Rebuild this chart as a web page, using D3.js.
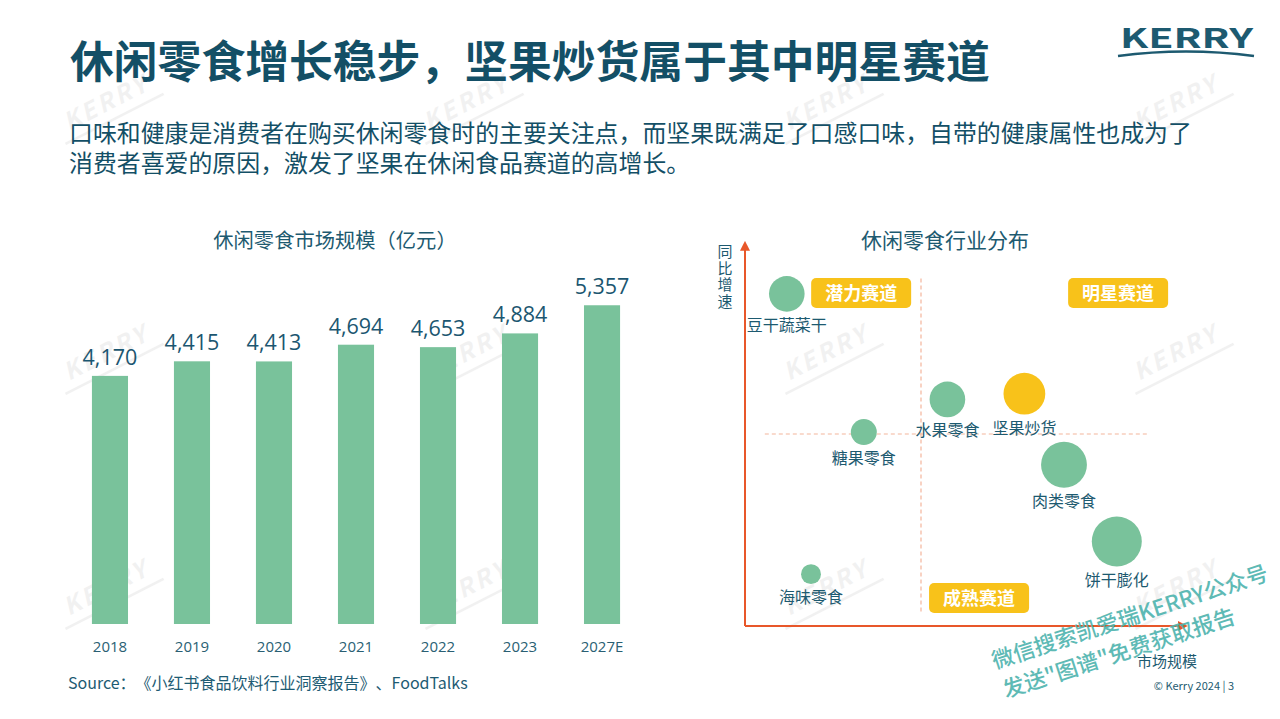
<html>
<head>
<meta charset="utf-8">
<script src="https://cdn.jsdelivr.net/npm/d3@7"></script>
<style>
body{ margin:0; background:#ffffff; overflow:hidden; position:relative; }
svg{ text-spacing-trim: space-all; display:block; }
text{ font-family: "Noto Sans CJK SC", "Open Sans", sans-serif; text-spacing-trim: space-all; }
.num{ font-family: "Open Sans", "Noto Sans", sans-serif; }
.subtitle{
    position:absolute;
    left:69px;
    top:118.7px;
    font-family:"DejaVu Sans", "Noto Sans CJK SC", sans-serif;
    font-size:23.9px;
    line-height:30px;
    color:#134f66;
    white-space:nowrap;
    text-spacing-trim: space-all;
}
</style>
</head>
<body>
<script>
// *** data
var years = ["2018", "2019", "2020", "2021", "2022", "2023", "2027E"];
var marketSize = [4170, 4415, 4413, 4694, 4653, 4884, 5357];

var segments = ["豆干蔬菜干", "水果零食", "坚果炒货", "糖果零食", "肉类零食", "饼干膨化", "海味零食"];
var segMarket = [9.5, 46, 63.5, 27, 72.5, 84.5, 15];      // x: 市场规模
var segGrowth = [86.5, 59, 60.5, 50.5, 42, 22, 13.5];     // y: 同比增速
var segWeight = [32, 32, 44, 17, 53, 63, 10];             // bubble size
var segStar = [false, false, true, false, false, false, false];
var quadrants = ["潜力赛道", "明星赛道", "成熟赛道"];

var dark = "#134f66";
var green = "#79c29b";
var yellow = "#f8c21a";
var axisRed = "#e8572a";

var width = 1280, height = 719;
var svg = d3.select("body").append("svg")
    .attr("width", width)
    .attr("height", height);

// *** faint KERRY watermarks
var wmPos = [];
[110, 470, 830, 1180].forEach(function(x){
    [110, 360, 595].forEach(function(y){ wmPos.push([x, y]); });
});
var wm = svg.append("g").selectAll("g").data(wmPos).enter().append("g")
    .attr("transform", function(d){ return "translate(" + d[0] + "," + d[1] + ") rotate(-27)"; })
    .attr("opacity", 0.05);
wm.append("text")
    .attr("text-anchor", "middle")
    .attr("font-family", "Open Sans")
    .attr("font-weight", 700)
    .attr("font-style", "italic")
    .attr("font-size", 24)
    .attr("letter-spacing", 3)
    .attr("fill", "#000")
    .text("KERRY");
wm.append("line")
    .attr("x1", -55).attr("x2", 55).attr("y1", 10).attr("y2", 10)
    .attr("stroke", "#000").attr("stroke-width", 2.5);

// *** header
svg.append("text")
    .attr("x", 70).attr("y", 78)
    .attr("font-size", 43.8)
    .attr("font-weight", 700)
    .attr("fill", dark)
    .text("休闲零食增长稳步，坚果炒货属于其中明星赛道");

var sub = ["口味和健康是消费者在购买休闲零食时的主要关注点，而坚果既满足了口感口味，自带的健康属性也成为了",
           "消费者喜爱的原因，激发了坚果在休闲食品赛道的高增长。"];
var subDiv = d3.select("body").append("div").attr("class", "subtitle");
sub.forEach(function(line, i){
    if(i > 0) subDiv.append("br");
    subDiv.append("span").text(line);
});

// logo
svg.append("text")
    .attr("x", 1120).attr("y", 48)
    .attr("font-family", "Open Sans")
    .attr("font-weight", 700)
    .attr("font-size", 27)
    .attr("textLength", 133)
    .attr("lengthAdjust", "spacingAndGlyphs")
    .attr("fill", "#1d5a70")
    .text("KERRY");
svg.append("path")
    .attr("d", "M1118,56 Q1186,47 1254,56")
    .attr("fill", "none")
    .attr("stroke", "#1d5a70")
    .attr("stroke-width", 2.5);

// *** bar chart
var xB = d3.scaleBand().domain(years).range([46, 666]).padding(0.56);
var yB = d3.scaleLinear().domain([0, 6000]).range([624, 267]);

svg.append("text")
    .attr("x", 335).attr("y", 248)
    .attr("text-anchor", "middle")
    .attr("font-size", 20.3)
    .attr("fill", "#1d5a70")
    .text("休闲零食市场规模（亿元）");

var bars = svg.append("g");
bars.selectAll("rect").data(marketSize).enter().append("rect")
    .attr("x", function(d, i){ return xB(years[i]); })
    .attr("y", function(d){ return yB(d); })
    .attr("width", xB.bandwidth())
    .attr("height", function(d){ return yB(0) - yB(d); })
    .attr("fill", green);

bars.selectAll("text").data(marketSize).enter().append("text")
    .attr("class", "num")
    .attr("x", function(d, i){ return xB(years[i]) + xB.bandwidth() / 2; })
    .attr("y", function(d){ return yB(d) - 11; })
    .attr("text-anchor", "middle")
    .attr("font-size", 21.5)
    .attr("fill", "#1b5670")
    .text(function(d){ return d3.format(",")(d); });

var xAxis = svg.append("g")
    .attr("transform", "translate(0," + yB(0) + ")")
    .call(d3.axisBottom(xB).tickSize(0).tickPadding(17));
xAxis.select(".domain").remove();
xAxis.selectAll("text")
    .attr("class", "num")
    .attr("font-size", 15)
    .attr("fill", "#2a5f73");

svg.append("text")
    .attr("x", 68).attr("y", 689)
    .attr("font-size", 16)
    .attr("fill", "#1d5b73")
    .text("Source：《小红书食品饮料行业洞察报告》、FoodTalks");

// *** bubble chart
var xS = d3.scaleLinear().domain([0, 100]).range([745, 1185]);
var yS = d3.scaleLinear().domain([0, 100]).range([626, 242]);
var rS = d3.scaleSqrt().domain([0, 63]).range([0, 25]);

svg.append("text")
    .attr("x", 945).attr("y", 248)
    .attr("text-anchor", "middle")
    .attr("font-size", 21)
    .attr("fill", "#1d5a70")
    .text("休闲零食行业分布");

var defs = svg.append("defs");
defs.append("marker")
    .attr("id", "arrow")
    .attr("viewBox", "0 0 10 10")
    .attr("refX", 5).attr("refY", 5)
    .attr("markerWidth", 5).attr("markerHeight", 5)
    .attr("orient", "auto")
    .append("path")
    .attr("d", "M0,0 L10,5 L0,10 z")
    .attr("fill", axisRed);

// dashed dividers at x=40, y=50
svg.append("line")
    .attr("x1", xS(40)).attr("x2", xS(40))
    .attr("y1", yS(90.5)).attr("y2", yS(3))
    .attr("stroke", "#f3b59c").attr("stroke-width", 1.2)
    .attr("stroke-dasharray", "4,3");
svg.append("line")
    .attr("x1", xS(4.5)).attr("x2", xS(91.5))
    .attr("y1", yS(50)).attr("y2", yS(50))
    .attr("stroke", "#f3b59c").attr("stroke-width", 1.2)
    .attr("stroke-dasharray", "4,3");

// axes
svg.append("line")
    .attr("x1", xS(0)).attr("y1", yS(0))
    .attr("x2", xS(0)).attr("y2", yS(99))
    .attr("stroke", axisRed).attr("stroke-width", 2)
    .attr("marker-end", "url(#arrow)");
svg.append("line")
    .attr("x1", xS(0)).attr("y1", yS(0))
    .attr("x2", xS(99.5)).attr("y2", yS(0))
    .attr("stroke", axisRed).attr("stroke-width", 2)
    .attr("marker-end", "url(#arrow)");

svg.append("text")
    .attr("x", 725).attr("y", 244)
    .style("writing-mode", "vertical-rl")
    .attr("letter-spacing", 1.5)
    .attr("font-size", 15)
    .attr("fill", "#1d5a70")
    .text("同比增速");

svg.append("text")
    .attr("x", 1197).attr("y", 667)
    .attr("text-anchor", "end")
    .attr("font-size", 15)
    .attr("fill", "#1d5a70")
    .text("市场规模");

// quadrant tags
var tagPos = [[26.4, 86.7], [84.8, 86.7], [53.2, 7.3]];
var tags = svg.append("g").selectAll("g").data(quadrants).enter().append("g")
    .attr("transform", function(d, i){ return "translate(" + xS(tagPos[i][0]) + "," + yS(tagPos[i][1]) + ")"; });
tags.append("rect")
    .attr("x", -50).attr("y", -15)
    .attr("width", 100).attr("height", 30)
    .attr("rx", 5)
    .attr("fill", yellow);
tags.append("text")
    .attr("text-anchor", "middle")
    .attr("y", 7)
    .attr("font-size", 18)
    .attr("font-weight", 700)
    .attr("fill", "#ffffff")
    .text(function(d){ return d; });

// bubbles
var bub = svg.append("g").selectAll("g").data(segments).enter().append("g");
bub.append("circle")
    .attr("cx", function(d, i){ return xS(segMarket[i]); })
    .attr("cy", function(d, i){ return yS(segGrowth[i]); })
    .attr("r", function(d, i){ return rS(segWeight[i]); })
    .attr("fill", function(d, i){ return segStar[i] ? yellow : green; });
bub.append("text")
    .attr("x", function(d, i){ return xS(segMarket[i]); })
    .attr("y", function(d, i){ return yS(segGrowth[i]) + rS(segWeight[i]) + 19; })
    .attr("text-anchor", "middle")
    .attr("font-size", 16)
    .attr("fill", "#1d5a70")
    .text(function(d){ return d; });

// *** footer
svg.append("text")
    .attr("x", 1234).attr("y", 690)
    .attr("text-anchor", "end")
    .attr("font-family", "Open Sans")
    .attr("font-size", 11)
    .attr("fill", "#1d5a70")
    .text("© Kerry 2024 | 3");

// teal promo watermark
var promo = ["微信搜索凯爱瑞KERRY公众号", "发送\"图谱\"免费获取报告"];
var promoPos = [[995, 669], [1006, 698]];
svg.append("g").selectAll("text").data(promo).enter().append("text")
    .attr("transform", function(d, i){ return "translate(" + promoPos[i][0] + "," + promoPos[i][1] + ") rotate(-18)"; })
    .attr("font-size", 22)
    .attr("font-weight", 500)
    .attr("fill", "#4db3ae")
    .attr("opacity", 0.9)
    .text(function(d){ return d; });
</script>
</body>
</html>
